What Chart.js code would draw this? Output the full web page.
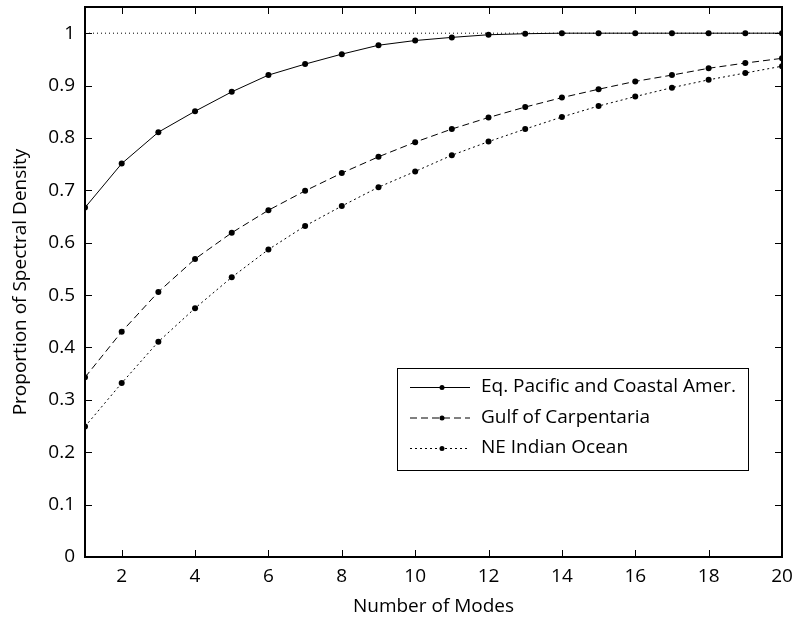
<!DOCTYPE html>
<html>

<head>
    <meta charset="utf-8">
    <title>Proportion of Spectral Density</title>
    <style>
        body {
            margin: 0;
            background-color: white;
        }
    </style>
</head>

<body>
    <canvas id="modesChart" width="794" height="619"></canvas>

    <script src="https://cdn.jsdelivr.net/npm/chart.js"></script>

    <script>
        const modes = [1, 2, 3, 4, 5, 6, 7, 8, 9, 10, 11, 12, 13, 14, 15, 16, 17, 18, 19, 20];
        const eqPacific = [0.667, 0.751, 0.811, 0.851, 0.888, 0.920, 0.941, 0.960, 0.977, 0.986,
            0.992, 0.997, 0.999, 1.0, 1.0, 1.0, 1.0, 1.0, 1.0, 1.0];
        const gulfCarpentaria = [0.343, 0.430, 0.506, 0.569, 0.619, 0.662, 0.699, 0.733, 0.764, 0.792,
            0.817, 0.839, 0.859, 0.877, 0.893, 0.908, 0.920, 0.933, 0.943, 0.952];
        const neIndian = [0.249, 0.332, 0.411, 0.475, 0.534, 0.587, 0.632, 0.670, 0.706, 0.736,
            0.767, 0.793, 0.817, 0.840, 0.861, 0.879, 0.896, 0.911, 0.924, 0.937];
        const seriesNames = ['Eq. Pacific and Coastal Amer.', 'Gulf of Carpentaria', 'NE Indian Ocean'];
        const xTicks = [2, 4, 6, 8, 10, 12, 14, 16, 18, 20];
        const yTicks = [0, 0.1, 0.2, 0.3, 0.4, 0.5, 0.6, 0.7, 0.8, 0.9, 1];

        const FONT = '"Open Sans", sans-serif';
        const FSIZE = 19;

        function toPoints(values) {
            return values.map((v, i) => ({ x: modes[i], y: v }));
        }

        function series(label, values, dash) {
            return {
                label: label,
                data: toPoints(values),
                borderColor: '#000',
                backgroundColor: '#000',
                borderWidth: 1,
                borderDash: dash,
                pointRadius: 3,
                pointBorderWidth: 0,
                pointHoverRadius: 3,
                tension: 0
            };
        }

        // box around the axes + inward ticks on all four sides, MATLAB style
        const boxPlugin = {
            id: 'box',
            afterDraw(chart) {
                const { ctx, chartArea: a, scales } = chart;
                ctx.save();
                ctx.strokeStyle = '#000';
                ctx.lineWidth = 1;
                ctx.setLineDash([]);
                const len = 7;
                ctx.beginPath();
                for (const t of xTicks) {
                    const px = Math.round(scales.x.getPixelForValue(t)) + 0.5;
                    ctx.moveTo(px, a.bottom); ctx.lineTo(px, a.bottom - len);
                    ctx.moveTo(px, a.top); ctx.lineTo(px, a.top + len);
                }
                for (const t of yTicks) {
                    const py = Math.round(scales.y.getPixelForValue(t)) + 0.5;
                    ctx.moveTo(a.left, py); ctx.lineTo(a.left + len, py);
                    ctx.moveTo(a.right, py); ctx.lineTo(a.right - len, py);
                }
                ctx.stroke();
                ctx.lineWidth = 2;
                ctx.strokeRect(a.left, a.top, a.right - a.left, a.bottom - a.top);
                ctx.restore();
            }
        };

        // legend drawn inside the axes, lower right
        const legendPlugin = {
            id: 'insideLegend',
            afterDraw(chart) {
                const { ctx } = chart;
                const box = { x: 397, y: 368, w: 351, h: 102 };
                ctx.save();
                ctx.fillStyle = '#fff';
                ctx.fillRect(box.x, box.y, box.w, box.h);
                ctx.strokeStyle = '#000';
                ctx.lineWidth = 1;
                ctx.setLineDash([]);
                ctx.strokeRect(box.x + 0.5, box.y + 0.5, box.w, box.h);
                ctx.font = FSIZE + 'px ' + FONT;
                ctx.textBaseline = 'middle';
                seriesNames.forEach((name, i) => {
                    const ds = chart.data.datasets[i];
                    const y = box.y + 19 + i * 30.5;
                    ctx.strokeStyle = '#000';
                    ctx.lineWidth = 1;
                    ctx.setLineDash(ds.borderDash || []);
                    ctx.beginPath();
                    ctx.moveTo(410, y + 0.5);
                    ctx.lineTo(470, y + 0.5);
                    ctx.stroke();
                    ctx.setLineDash([]);
                    ctx.fillStyle = '#000';
                    ctx.beginPath();
                    ctx.arc(442, y + 0.5, 2.5, 0, Math.PI * 2);
                    ctx.fill();
                    ctx.fillText(name, 481, y);
                });
                ctx.restore();
            }
        };

        new Chart(document.getElementById('modesChart'), {
            type: 'line',
            data: {
                datasets: [
                    series(seriesNames[0], eqPacific, []),
                    series(seriesNames[1], gulfCarpentaria, [7, 4]),
                    series(seriesNames[2], neIndian, [2, 3]),
                    {
                        label: 'ref',
                        data: [{ x: 1, y: 1 }, { x: 20, y: 1 }],
                        borderColor: '#000',
                        borderWidth: 1,
                        borderDash: [1, 3],
                        pointRadius: 0
                    }
                ]
            },
            options: {
                responsive: false,
                animation: false,
                events: [],
                layout: { padding: { top: 7, right: 12, left: 0, bottom: 0 } },
                plugins: {
                    legend: { display: false },
                    tooltip: { enabled: false }
                },
                scales: {
                    x: {
                        type: 'linear',
                        min: 1,
                        max: 20,
                        afterBuildTicks: s => { s.ticks = xTicks.map(v => ({ value: v })); },
                        afterFit: s => { s.height = 62; s.paddingLeft = 0; s.paddingRight = 0; },
                        grid: { display: false, drawTicks: false },
                        border: { display: false },
                        ticks: { color: '#000', font: { family: FONT, size: FSIZE }, padding: 8, maxRotation: 0 },
                        title: {
                            display: true,
                            text: 'Number of Modes',
                            color: '#000',
                            font: { family: FONT, size: FSIZE },
                            padding: { top: 0, bottom: 1 }
                        }
                    },
                    y: {
                        min: 0,
                        max: 1.05,
                        afterBuildTicks: s => { s.ticks = yTicks.map(v => ({ value: v })); },
                        afterFit: s => { s.width = 85; s.paddingTop = 0; s.paddingBottom = 0; },
                        grid: { display: false, drawTicks: false },
                        border: { display: false },
                        ticks: {
                            color: '#000',
                            font: { family: FONT, size: FSIZE },
                            padding: 10,
                            callback: v => String(v)
                        },
                        title: {
                            display: true,
                            text: 'Proportion of Spectral Density',
                            color: '#000',
                            font: { family: FONT, size: FSIZE },
                            padding: { top: 9, bottom: 0 }
                        }
                    }
                }
            },
            plugins: [boxPlugin, legendPlugin]
        });
    </script>
</body>

</html>
